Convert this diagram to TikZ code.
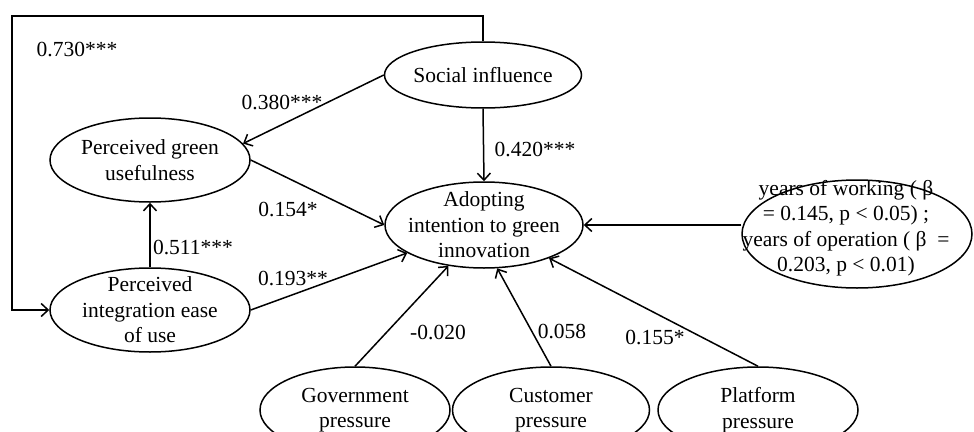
\documentclass[tikz,border=0pt]{standalone}
\usepackage{fontspec}
\setmainfont{Liberation Serif}
\usetikzlibrary{shapes.geometric,arrows.meta}

\begin{document}
\begin{tikzpicture}[
  x = 1pt, y = -1pt,
  font = \fontsize{21.5}{25.5}\selectfont,
  construct/.style = {ellipse, draw, line width = 1.5pt, inner sep = 0pt,
                      minimum width = 200pt, minimum height = 84pt},
  link/.style = {line width = 1.5pt, -{Straight Barb[length = 7pt, width = 13pt]}},
  every label/.style = {align = center, inner sep = 0pt}
  ]
  \clip (0,0) rectangle (974,431);
  % constructs
  \node[construct, minimum width = 197pt, minimum height = 66pt,
        label = center:Social influence] (si) at (483,75) {};
  \node[construct, label = {center:Perceived green\\usefulness}] (pgu) at (150,160) {};
  \node[construct, label = {center:Perceived\\integration ease\\of use}] (pieu) at (150,310) {};
  \node[construct, minimum width = 198pt, minimum height = 86pt,
        label = {center:Adopting\\intention to green\\innovation}] (adopt) at (484,225) {};
  \node[construct, minimum width = 230pt, minimum height = 108pt,
        label = {[xshift = -11pt, yshift = 6pt]center:years of working ( β\\
          = 0.145, p < 0.05) ;\\years of operation ( β \ =\\0.203, p < 0.01)}] (ctrl) at (857,234) {};
  \node[construct, minimum width = 190pt, minimum height = 86pt,
        label = {center:Government\\pressure}] (gov) at (355,410) {};
  \node[construct, minimum width = 197pt, minimum height = 86pt,
        label = {center:Customer\\pressure}] (cust) at (551,410) {};
  \node[construct, minimum width = 200pt, minimum height = 86pt,
        label = {center:Platform\\pressure}] (plat) at (758,410) {};

  % paths
  \coordinate (fb) at (12,16);
  \draw[link] (si.north) |- (fb) |- (pieu.west);
  \draw[link] (si.west) -- (pgu.10);
  \draw[link] (si.south) -- (adopt.north);
  \draw[link] (pgu.east) -- (adopt.west);
  \draw[link] (pieu.north) -- (pgu.south);
  \draw[link] (pieu.east) -- (adopt.200);
  \draw[link] (ctrl.west |- adopt.east) -- (adopt.east);
  \draw[link] (gov.north) -- (adopt.229);
  \draw[link] (cust.north) -- (adopt.287);
  \draw[link] (plat.north) -- (adopt.333);

  % coefficients
  \node (c730) at (77,50)   {0.730***};
  \node (c380) at (282,103) {0.380***};
  \node (c420) at (535,150) {0.420***};
  \node (c154) at (288,209) {0.154*};
  \node (c511) at (193,247) {0.511***};
  \node (c193) at (293,278) {0.193**};
  \node (c020) at (438,332) {-0.020};
  \node (c058) at (562,331) {0.058};
  \node (c155) at (655,337) {0.155*};
\end{tikzpicture}
\end{document}
